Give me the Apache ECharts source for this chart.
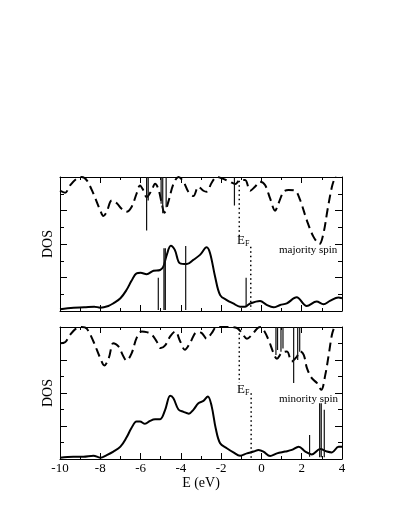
<!DOCTYPE html>
<html>
<head>
<meta charset="utf-8">
<script src="https://cdn.jsdelivr.net/npm/echarts@6/dist/echarts.min.js"></script>
<style>
  html, body { margin: 0; padding: 0; background: #fff; }
  #chart { width: 402px; height: 520px; }
</style>
</head>
<body>
<div id="chart"></div>
<script>
// x 轴刻度
var xTicks = [-10, -8, -6, -4, -2, 0, 2, 4];

// majority spin: 实线 / 虚线 [E, DOS]
var majSolid = [[-10,0.1],[-9.33,0.2],[-8.8,0.22],[-8.3,0.26],[-8,0.2],[-7.6,0.3],[-7.35,0.46],[-7,0.76],[-6.7,1.25],[-6.45,1.8],[-6.2,2.25],[-6.0,2.28],[-5.7,2.2],[-5.36,2.4],[-5.03,2.45],[-4.87,2.65],[-4.7,3.35],[-4.5,3.9],[-4.3,3.65],[-4.05,2.85],[-3.7,2.8],[-3.38,3.05],[-3.05,3.35],[-2.72,3.8],[-2.55,3.45],[-2.3,2.05],[-2.05,0.95],[-1.72,0.65],[-1.4,0.45],[-1.06,0.26],[-0.81,0.26],[-0.56,0.45],[-0.07,0.6],[0.26,0.36],[0.6,0.22],[0.93,0.36],[1.26,0.46],[1.75,0.82],[2.25,0.3],[2.74,0.56],[3.08,0.4],[3.4,0.6],[3.82,0.8],[4,0.76]];
var majDash = [[-10,7.18],[-9.75,7.06],[-9.5,7.5],[-9.17,7.9],[-8.92,8.0],[-8.67,7.8],[-8.34,7.0],[-8,6.0],[-7.85,5.67],[-7.68,5.93],[-7.43,6.6],[-7.18,6.43],[-6.94,6.1],[-6.7,5.93],[-6.44,6.23],[-6.2,7.0],[-6.03,7.5],[-5.86,7.2],[-5.7,6.8],[-5.45,7.2],[-5.28,7.6],[-5.12,7.3],[-4.95,6.43],[-4.82,5.87],[-4.62,6.53],[-4.37,7.58],[-4.12,8.0],[-3.87,7.72],[-3.63,7.12],[-3.38,6.86],[-3.13,7.42],[-2.88,7.18],[-2.72,7.12],[-2.47,7.66],[-2.22,8.0],[-1.97,7.92],[-1.56,7.72],[-1.3,7.58],[-1.06,7.82],[-0.81,7.82],[-0.56,7.18],[-0.32,7.42],[-0.07,7.72],[0.18,7.52],[0.43,6.72],[0.68,5.99],[0.85,6.43],[1.1,7.12],[1.35,7.22],[1.67,7.18],[1.92,6.63],[2.25,5.43],[2.58,4.44],[2.88,4.0],[3.08,4.64],[3.28,6.03],[3.5,7.42],[3.65,8.0],[3.8,8.6],[4,9.2]];

// minority spin
var minSolid = [[-10,0.08],[-9.34,0.14],[-8.84,0.14],[-8.34,0.2],[-8,0.08],[-7.68,0.24],[-7.35,0.45],[-7,0.75],[-6.7,1.3],[-6.46,1.86],[-6.2,2.27],[-6.03,2.27],[-5.78,2.13],[-5.53,2.31],[-5.28,2.41],[-5.03,2.41],[-4.78,2.98],[-4.53,3.83],[-4.37,3.68],[-4.12,3.0],[-3.87,2.86],[-3.6,2.75],[-3.38,2.98],[-3.13,3.38],[-2.88,3.52],[-2.66,3.79],[-2.47,3.19],[-2.27,1.86],[-2.05,0.95],[-1.72,0.65],[-1.39,0.4],[-1.06,0.2],[-0.72,0.34],[-0.39,0.45],[-0.14,0.55],[0.1,0.45],[0.43,0.18],[0.77,0.34],[1.18,0.45],[1.51,0.55],[1.85,0.75],[2.18,0.45],[2.5,0.28],[2.92,0.6],[3.25,0.45],[3.5,0.4],[3.83,0.75],[4,0.75]];
var minDash = [[-10,7.02],[-9.75,7.08],[-9.5,7.53],[-9.17,7.94],[-8.92,8.0],[-8.67,7.9],[-8.34,7.12],[-8,6.11],[-7.8,5.67],[-7.58,6.11],[-7.35,7.02],[-7.1,6.82],[-6.85,6.21],[-6.7,5.97],[-6.44,6.42],[-6.2,7.33],[-5.94,7.73],[-5.7,7.69],[-5.44,7.53],[-5.2,7.12],[-5.0,6.72],[-4.78,6.88],[-4.53,7.43],[-4.28,7.73],[-4.03,7.12],[-3.8,6.62],[-3.55,7.02],[-3.2,7.69],[-2.96,7.63],[-2.72,7.29],[-2.47,7.63],[-2.22,8.0],[-1.72,8.0],[-1.22,7.94],[-0.97,7.63],[-0.72,7.29],[-0.47,7.53],[-0.22,7.9],[-0.06,8.0],[0.1,7.84],[0.35,7.23],[0.6,6.42],[0.77,6.07],[1.0,6.42],[1.27,6.52],[1.5,5.91],[1.76,6.21],[1.93,6.52],[2.1,6.31],[2.26,5.51],[2.5,4.9],[2.76,4.6],[2.97,4.19],[3.17,5.1],[3.34,6.31],[3.5,7.53],[3.62,8.0],[3.8,8.6],[4,9.2]];

// 尖峰 [E, 起点, 终点]
var majSolidSpikes = [[-5.12,0.06,1.99],[-4.84,0.06,3.74],[-4.77,0.06,3.74],[-3.76,0.06,3.88],[-0.76,0.3,1.99]];
var majDashSpikes = [[-5.7,8,4.8],[-5.62,8,6.6],[-4.98,8,6.4],[-4.9,8,5.83],[-4.73,8,6.2],[-1.34,8,6.3]];
var minSolidSpikes = [[2.39,0.14,1.46],[2.89,0.1,3.38],[2.97,0.1,3.38],[3.12,0.1,2.98]];
var minDashSpikes = [[0.72,8,6.3],[0.8,8,6.6],[0.97,8,6.5],[1.07,8,6.7],[1.6,8,4.6],[1.8,8,6.0],[1.9,8,6.5]];

// 费米能级点线
var majFermi = [[-1.1,7.78,4.44],[-0.53,3.84,0.06]];
var minFermi = [[-1.1,7.9,4.6],[-0.51,3.99,0]];

function segs(list) {
    var out = [];
    list.forEach(function (s) {
        out.push([s[0], s[1]], [s[0], s[2]], [s[0], '-']);
    });
    return out;
}

var serif = 'Liberation Serif';
var grids = [
    { left: 60, top: 177, width: 282, height: 134 },
    { left: 60, top: 327, width: 282, height: 132 }
];

function xAx(g, pos, labels) {
    return {
        type: 'value', gridIndex: g, position: pos, min: -10, max: 4, interval: 2,
        axisLine: { onZero: false, lineStyle: { color: '#000', width: 1 } },
        axisTick: { inside: true, length: 6, lineStyle: { color: '#000' } },
        minorTick: { show: true, splitNumber: 2, length: 3, lineStyle: { color: '#000' } },
        axisLabel: { show: labels, color: '#000', fontSize: 13, fontFamily: serif, margin: 3,
            formatter: function (v) { return xTicks.indexOf(v) >= 0 ? String(v) : ''; } },
        splitLine: { show: false },
        name: labels ? 'E (eV)' : '', nameLocation: 'middle', nameGap: 15,
        nameTextStyle: { color: '#000', fontSize: 14, fontFamily: serif }
    };
}
function yAx(g, pos, named) {
    return {
        type: 'value', gridIndex: g, position: pos, min: 0, max: 8, interval: 2,
        axisLine: { show: true, onZero: false, lineStyle: { color: '#000', width: 1 } },
        axisTick: { show: true, inside: true, length: 7, lineStyle: { color: '#000' } },
        minorTick: { show: true, splitNumber: 2, length: 4, lineStyle: { color: '#000' } },
        axisLabel: { show: false },
        splitLine: { show: false },
        name: named ? 'DOS' : '', nameLocation: 'middle', nameGap: 5, nameRotate: 90,
        nameTextStyle: { color: '#000', fontSize: 14, fontFamily: serif }
    };
}

function curve(g, data, dashed) {
    return {
        type: 'line', xAxisIndex: g, yAxisIndex: g, data: data, showSymbol: false, symbol: 'none',
        smooth: 0.35, clip: true, silent: true,
        lineStyle: { color: '#000', width: 2, type: dashed ? [9, 5] : 'solid' }
    };
}
function thin(g, list, dotted) {
    return {
        type: 'line', xAxisIndex: g, yAxisIndex: g, data: segs(list), showSymbol: false, symbol: 'none',
        connectNulls: false, clip: true, silent: true,
        lineStyle: dotted ? { color: '#000', width: 1.5, type: [1.5, 3] } : { color: '#111', width: 1.2 }
    };
}

var myChart = echarts.init(document.getElementById('chart'));
var option = {
    backgroundColor: '#fff',
    animation: false,
    grid: grids,
    xAxis: [xAx(0, 'bottom', false), xAx(1, 'bottom', true), xAx(0, 'top', false), xAx(1, 'top', false)],
    yAxis: [yAx(0, 'left', true), yAx(1, 'left', true), yAx(0, 'right', false), yAx(1, 'right', false)],
    series: [
        curve(0, majDash, true), curve(0, majSolid, false),
        thin(0, majSolidSpikes), thin(0, majDashSpikes), thin(0, majFermi, true),
        curve(1, minDash, true), curve(1, minSolid, false),
        thin(1, minSolidSpikes), thin(1, minDashSpikes), thin(1, minFermi, true)
    ],
    graphic: [
        { type: 'text', left: 237, top: 234, style: { text: 'E', font: '13px ' + serif, fill: '#000' } },
        { type: 'text', left: 245, top: 240, style: { text: 'F', font: '8px ' + serif, fill: '#000' } },
        { type: 'text', left: 279, top: 245, style: { text: 'majority spin', font: '11px ' + serif, fill: '#000' } },
        { type: 'text', left: 237, top: 383, style: { text: 'E', font: '13px ' + serif, fill: '#000' } },
        { type: 'text', left: 245, top: 389, style: { text: 'F', font: '8px ' + serif, fill: '#000' } },
        { type: 'text', left: 279, top: 394, style: { text: 'minority spin', font: '11px ' + serif, fill: '#000' } }
    ]
};
myChart.setOption(option);
</script>
</body>
</html>
